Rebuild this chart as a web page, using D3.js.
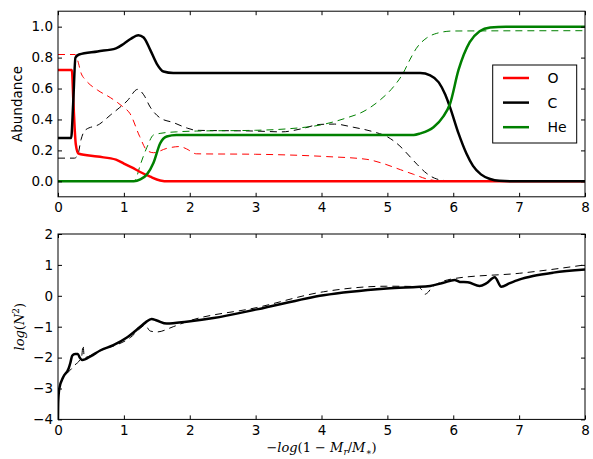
<!DOCTYPE html>
<html><head><meta charset="utf-8">
<script src="https://cdn.jsdelivr.net/npm/d3@7"></script>
<style>
html,body{margin:0;padding:0;background:#fff;}
svg{display:block;}
text{font-family:"DejaVu Sans",sans-serif;}
</style></head>
<body>
<svg id="chart" width="593" height="459"></svg>
<script>
// ---------- data ----------
const xTicks = [0,1,2,3,4,5,6,7,8];
const yTicksTop = [0.0,0.2,0.4,0.6,0.8,1.0];
const yTicksBottom = [-4,-3,-2,-1,0,1,2];
const species = ["O","C","He"];

const oSolid = [[0,0.72],[0.21,0.72],[0.235,0.5],[0.27,0.24],[0.31,0.18],[0.6,0.16],[0.88,0.14],[1.0,0.115],[1.12,0.09],[1.24,0.062],[1.4,0.03],[1.55,0.006],[1.68,0],[8,0]];
const cSolid = [[0,0.28],[0.2,0.28],[0.23,0.5],[0.265,0.8],[0.32,0.82],[0.6,0.84],[0.88,0.86],[1.0,0.89],[1.1,0.92],[1.22,0.945],[1.3,0.93],[1.4,0.85],[1.5,0.76],[1.6,0.71],[1.75,0.70],[5.5,0.70],[5.65,0.685],[5.78,0.64],[5.88,0.56],[5.95,0.48],[6.08,0.31],[6.2,0.18],[6.3,0.1],[6.42,0.045],[6.56,0.015],[6.7,0.003],[6.9,0],[8,0]];
const heSolid = [[0,0],[1.15,0],[1.25,0.012],[1.35,0.045],[1.45,0.12],[1.55,0.245],[1.65,0.29],[1.8,0.30],[5.4,0.30],[5.5,0.31],[5.7,0.35],[5.85,0.42],[5.95,0.5],[6.08,0.72],[6.25,0.9],[6.4,0.97],[6.56,0.995],[6.8,1.0],[8,1.0]];

const oDash = [[0,0.82],[0.26,0.82],[0.3,0.78],[0.35,0.70],[0.42,0.655],[0.6,0.59],[0.8,0.54],[0.99,0.48],[1.09,0.44],[1.24,0.29],[1.35,0.2],[1.45,0.185],[1.65,0.213],[1.85,0.225],[1.95,0.21],[2.1,0.178],[3.0,0.175],[4.08,0.16],[4.69,0.142],[4.9,0.12],[5.2,0.075],[5.4,0.045],[5.6,0.015],[5.8,0.002],[6,0],[8,0]];
const cDash = [[0,0.15],[0.25,0.15],[0.3,0.17],[0.35,0.27],[0.41,0.33],[0.63,0.37],[0.8,0.43],[0.93,0.475],[1.05,0.52],[1.21,0.595],[1.3,0.56],[1.4,0.48],[1.55,0.41],[1.75,0.38],[1.97,0.343],[2.1,0.33],[3.0,0.325],[3.4,0.32],[3.7,0.34],[3.98,0.368],[4.2,0.37],[4.48,0.35],[4.79,0.32],[4.99,0.29],[5.19,0.228],[5.32,0.17],[5.45,0.11],[5.6,0.05],[5.75,0.015],[5.95,0.002],[6.1,0],[8,0]];
const heDash = [[0,0],[1.15,0],[1.18,0.012],[1.24,0.094],[1.35,0.22],[1.45,0.3],[1.55,0.31],[1.8,0.32],[2.1,0.325],[3.0,0.33],[3.5,0.34],[3.98,0.364],[4.38,0.41],[4.63,0.45],[4.89,0.526],[5.09,0.61],[5.24,0.70],[5.34,0.785],[5.44,0.86],[5.59,0.925],[5.75,0.957],[6.0,0.972],[8,0.974]];

const n2Solid = [[0,-4],[0.004,-3.4],[0.02,-3.0],[0.08,-2.63],[0.16,-2.36],[0.19,-2.15],[0.215,-1.94],[0.26,-1.88],[0.3,-1.88],[0.33,-2.0],[0.37,-2.08],[0.5,-1.95],[0.64,-1.77],[0.84,-1.6],[1.04,-1.36],[1.24,-1.02],[1.33,-0.86],[1.42,-0.75],[1.5,-0.8],[1.65,-0.9],[1.95,-0.84],[2.36,-0.72],[3.02,-0.44],[4.03,0.02],[4.99,0.24],[5.65,0.32],[5.85,0.42],[6.02,0.51],[6.1,0.45],[6.22,0.44],[6.4,0.32],[6.5,0.4],[6.63,0.6],[6.73,0.29],[6.85,0.4],[7.01,0.53],[7.21,0.64],[7.52,0.75],[8.0,0.85]];
const n2Dash = [[0,-4],[0.004,-3.4],[0.02,-3.0],[0.08,-2.65],[0.18,-2.42],[0.25,-2.25],[0.33,-2.08],[0.36,-1.95],[0.38,-1.6],[0.4,-2.0],[0.5,-1.93],[0.7,-1.72],[0.9,-1.58],[1.1,-1.35],[1.25,-1.05],[1.32,-0.95],[1.4,-1.14],[1.5,-1.17],[1.75,-1.0],[1.95,-0.84],[3.02,-0.38],[4.03,0.13],[4.99,0.31],[5.45,0.3],[5.52,0.2],[5.57,0.05],[5.62,0.12],[5.68,0.28],[6.02,0.56],[7.01,0.73],[8.0,1.0]];

// ---------- layout ----------
const svg = d3.select("#chart");
const X0 = 58, X1 = 585;
const topP = {t:11.2, b:196.8};
const botP = {t:234, b:419.4};
const col = {O:"#ff0000", C:"#000000", He:"#008000"};

const x = d3.scaleLinear().domain([0,8]).range([X0,X1]);
const yT = d3.scaleLinear().domain([-0.1,1.1]).range([topP.b, topP.t]);
const yB = d3.scaleLinear().domain([-4,2]).range([botP.b, botP.t]);

const defs = svg.append("defs");
defs.append("clipPath").attr("id","clipT").append("rect").attr("x",X0).attr("y",topP.t).attr("width",X1-X0).attr("height",topP.b-topP.t);
defs.append("clipPath").attr("id","clipB").append("rect").attr("x",X0).attr("y",botP.t).attr("width",X1-X0).attr("height",botP.b-botP.t);

function axes(y, panel, yticks, fmt){
  const g = svg.append("g");
  g.append("g").attr("transform",`translate(0,${panel.b})`)
    .call(d3.axisBottom(x).tickValues(xTicks).tickSizeInner(-4).tickSizeOuter(0).tickPadding(6).tickFormat(d3.format("d")));
  g.append("g").attr("transform",`translate(0,${panel.t})`)
    .call(d3.axisTop(x).tickValues(xTicks).tickSizeInner(-4).tickSizeOuter(0).tickFormat(""));
  g.append("g").attr("transform",`translate(${X0},0)`)
    .call(d3.axisLeft(y).tickValues(yticks).tickSizeInner(-4).tickSizeOuter(0).tickPadding(5).tickFormat(fmt));
  g.append("g").attr("transform",`translate(${X1},0)`)
    .call(d3.axisRight(y).tickValues(yticks).tickSizeInner(-4).tickSizeOuter(0).tickFormat(""));
  g.selectAll(".domain").remove();
  g.selectAll(".tick line").attr("stroke","#000").attr("stroke-width",1);
  g.selectAll(".tick text").attr("fill","#000").style("font-size","13.5px").style("font-family","'DejaVu Sans',sans-serif");
  g.append("rect").attr("x",X0).attr("y",panel.t).attr("width",X1-X0).attr("height",panel.b-panel.t)
    .attr("fill","none").attr("stroke","#000").attr("stroke-width",1);
  return g;
}

const lineT = d3.line().x(d=>x(d[0])).y(d=>yT(d[1])).curve(d3.curveMonotoneX);
const lineB = d3.line().x(d=>x(d[0])).y(d=>yB(d[1])).curve(d3.curveMonotoneX);

// top panel curves
const gT = svg.append("g").attr("clip-path","url(#clipT)");
[[oDash,col.O],[cDash,col.C],[heDash,col.He]].forEach(([d,c])=>{
  gT.append("path").attr("d",lineT(d)).attr("fill","none").attr("stroke",c).attr("stroke-width",1).attr("stroke-dasharray","7,5");
});
[[oSolid,col.O],[cSolid,col.C],[heSolid,col.He]].forEach(([d,c])=>{
  gT.append("path").attr("d",lineT(d)).attr("fill","none").attr("stroke",c).attr("stroke-width",2.5).attr("stroke-linejoin","round");
});
axes(yT, topP, yTicksTop, d3.format(".1f"));

// bottom panel curves
const gB = svg.append("g").attr("clip-path","url(#clipB)");
gB.append("path").attr("d",lineB(n2Dash)).attr("fill","none").attr("stroke","#000").attr("stroke-width",1).attr("stroke-dasharray","7,5");
gB.append("path").attr("d",lineB(n2Solid)).attr("fill","none").attr("stroke","#000").attr("stroke-width",2.5).attr("stroke-linejoin","round");
axes(yB, botP, yTicksBottom, d3.format("d"));
svg.selectAll(".tick text").text(function(){return this.textContent.replace("-","\u2212");});

// legend
const lg = svg.append("g");
lg.append("rect").attr("x",492.7).attr("y",65).attr("width",84).attr("height",78).attr("fill","#fff").attr("stroke","#000").attr("stroke-width",1);
species.forEach((s,i)=>{
  const yy = 78 + i*24.6;
  lg.append("line").attr("x1",503).attr("x2",529).attr("y1",yy).attr("y2",yy).attr("stroke",col[s]).attr("stroke-width",2.5);
  lg.append("text").attr("x",547.5).attr("y",yy).attr("dy","0.36em").text(s).style("font-size","14px").attr("fill","#000");
});

// axis labels
svg.append("text").attr("transform",`translate(22,${(topP.t+topP.b)/2}) rotate(-90)`).attr("text-anchor","middle")
  .style("font-size","13.5px").text("Abundance");

const yl = svg.append("text").attr("transform",`translate(24,${(botP.t+botP.b)/2}) rotate(-90)`).attr("text-anchor","middle")
  .style("font-family","'DejaVu Serif',serif").style("font-size","13px").style("font-style","italic");
yl.append("tspan").text("log");
yl.append("tspan").style("font-style","normal").text("(");
yl.append("tspan").text("N");
yl.append("tspan").attr("dy",-5).style("font-size","9px").style("font-style","normal").text("2");
yl.append("tspan").attr("dy",5).style("font-style","normal").text(")");

const xl = svg.append("text").attr("x",(X0+X1)/2).attr("y",452).attr("text-anchor","middle")
  .style("font-family","'DejaVu Serif',serif").style("font-size","13px");
xl.append("tspan").text("\u2212");
xl.append("tspan").style("font-style","italic").text("log");
xl.append("tspan").text("(1 \u2212 ");
xl.append("tspan").style("font-style","italic").text("M");
xl.append("tspan").attr("dy",3).style("font-size","9px").style("font-style","italic").text("r");
xl.append("tspan").attr("dy",-3).text("/");
xl.append("tspan").style("font-style","italic").text("M");
xl.append("tspan").attr("dy",3).style("font-size","9px").text("\u2217");
xl.append("tspan").attr("dy",-3).text(")");
</script>
</body></html>
